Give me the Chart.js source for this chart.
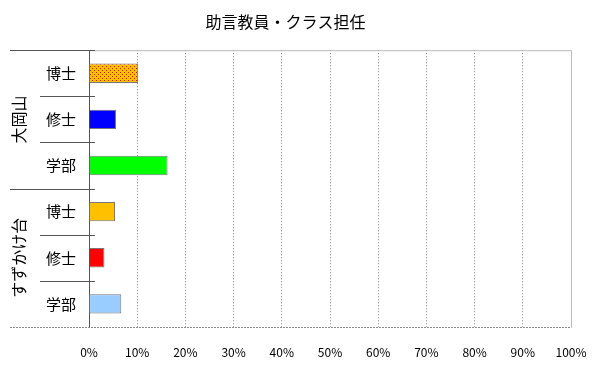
<!DOCTYPE html>
<html>
<head>
<meta charset="utf-8">
<script src="https://cdn.jsdelivr.net/npm/chart.js@4"></script>
<style>
  body { margin: 0; background: #fff; }
  #wrap { width: 600px; height: 372px; }
</style>
</head>
<body>
<div id="wrap"><canvas id="chart"></canvas></div>
<script>
const groups = ['大岡山', 'すずかけ台'];
const degrees = ['博士', '修士', '学部'];
const values = [10.2, 5.6, 16.3, 5.4, 3.2, 6.7];
const xTicks = [0, 10, 20, 30, 40, 50, 60, 70, 80, 90, 100];

const labels = [];
groups.forEach(g => degrees.forEach(d => labels.push(g + ' ' + d)));

// orange with red dots for the first bar
const pc = document.createElement('canvas');
pc.width = 4; pc.height = 4;
const pctx = pc.getContext('2d');
pctx.fillStyle = '#ffc000';
pctx.fillRect(0, 0, 4, 4);
pctx.fillStyle = '#ff0000';
pctx.fillRect(0, 0, 1, 1);
pctx.fillRect(2, 2, 1, 1);
const dots = pctx.createPattern(pc, 'repeat');

const colors = [dots, '#0000ff', '#00ff00', '#ffc000', '#ff0000', '#99ccff'];

const fontFam = '"Noto Sans CJK JP", "Noto Sans", sans-serif';

const groupPlugin = {
  id: 'groups',
  afterDraw(chart) {
    const c = chart.ctx, y = chart.scales.y, a = chart.chartArea;
    const step = y.getPixelForValue(1) - y.getPixelForValue(0);
    c.save();
    // plot frame top/right
    c.strokeStyle = '#bbbbbb';
    c.lineWidth = 1;
    c.beginPath();
    c.moveTo(a.left, a.top + 0.5); c.lineTo(a.right + 0.5, a.top + 0.5);
    c.lineTo(a.right + 0.5, a.bottom);
    c.stroke();
    // bottom line across
    c.strokeStyle = '#888888';
    c.setLineDash([2, 1]);
    c.beginPath();
    c.moveTo(10, a.bottom + 0.5); c.lineTo(a.right + 0.5, a.bottom + 0.5);
    c.stroke();
    c.setLineDash([]);
    c.strokeStyle = '#555555';
    for (let i = 0; i < labels.length; i++) {
      const py = Math.round(y.getPixelForValue(i) - step / 2) + 0.5;
      const isGroup = i % degrees.length === 0;
      c.beginPath();
      c.moveTo(isGroup ? 10 : 40, py);
      c.lineTo(a.left + 6, py);
      c.stroke();
    }
    // group names, vertical
    c.fillStyle = '#000';
    c.font = '16px ' + fontFam;
    c.textAlign = 'center';
    c.textBaseline = 'middle';
    groups.forEach((g, gi) => {
      const y0 = y.getPixelForValue(gi * degrees.length) - step / 2;
      const y1 = y.getPixelForValue((gi + 1) * degrees.length - 1) + step / 2;
      c.save();
      c.translate(19, (y0 + y1) / 2);
      c.rotate(-Math.PI / 2);
      c.fillText(g, 0, 0);
      c.restore();
    });
    c.restore();
  }
};

new Chart(document.getElementById('chart'), {
  type: 'bar',
  data: {
    labels: labels,
    datasets: [{
      data: values,
      backgroundColor: colors,
      borderColor: '#777777',
      borderWidth: 1,
      barPercentage: 0.42,
      categoryPercentage: 1
    }]
  },
  options: {
    indexAxis: 'y',
    responsive: true,
    maintainAspectRatio: false,
    animation: false,
    layout: { padding: { right: 29 } },
    plugins: {
      legend: { display: false },
      tooltip: { enabled: false },
      title: {
        display: true,
        text: '助言教員・クラス担任',
        color: '#000',
        font: { family: fontFam, size: 16, weight: 'normal' },
        padding: { top: 12, bottom: 19 }
      }
    },
    scales: {
      x: {
        min: 0, max: 100,
        afterFit(s) { s.height = 45; s.paddingRight = 0; s.paddingLeft = 0; },
        afterBuildTicks(s) { s.ticks = xTicks.map(v => ({ value: v })); },
        ticks: {
          color: '#000',
          padding: 18,
          font: { family: fontFam, size: 12 },
          callback: v => v + '%'
        },
        grid: {
          drawTicks: false,
          color: ctx => (ctx.tick && (ctx.tick.value === 0 || ctx.tick.value === 100)) ? 'rgba(0,0,0,0)' : '#888888',
          lineWidth: 1
        },
        border: { display: false, dash: [1, 2] }
      },
      y: {
        afterFit(s) { s.width = 89; },
        ticks: {
          color: '#000',
          padding: 13,
          font: { family: fontFam, size: 15 },
          callback: (v, i) => degrees[i % degrees.length]
        },
        grid: { display: false, drawTicks: false },
        border: { display: true, color: '#555555', width: 1 }
      }
    }
  },
  plugins: [groupPlugin]
});
</script>
</body>
</html>
